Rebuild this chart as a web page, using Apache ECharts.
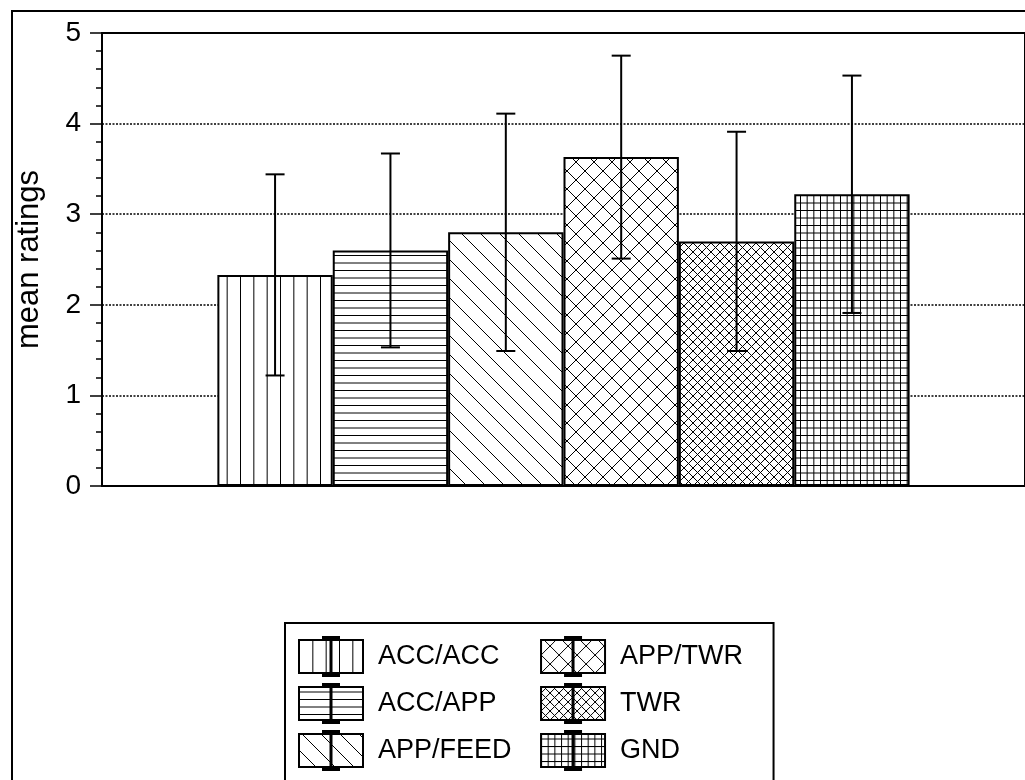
<!DOCTYPE html>
<html>
<head>
<meta charset="utf-8">
<script src="https://cdn.jsdelivr.net/npm/echarts@6/dist/echarts.min.js"></script>
<style>
html,body{margin:0;padding:0;background:#fff;}
#chart{width:1025px;height:780px;}
</style>
</head>
<body>
<div id="chart"></div>
<script>
// ---- data ----
const conditions = ['ACC/ACC', 'ACC/APP', 'APP/FEED', 'APP/TWR', 'TWR', 'GND'];
const meanRatings = [2.33, 2.60, 2.80, 3.63, 2.70, 3.22];
const stdDev = [1.11, 1.07, 1.31, 1.12, 1.21, 1.31];
const yTicks = [0, 1, 2, 3, 4, 5];
const axisCategories = [''].concat(conditions).concat([' ']);

// ---- hatch patterns ----
function makeTile(w, h, draw) {
  const c = document.createElement('canvas');
  c.width = w; c.height = h;
  const ctx = c.getContext('2d');
  ctx.fillStyle = '#fff';
  ctx.fillRect(0, 0, w, h);
  ctx.strokeStyle = '#000';
  ctx.lineWidth = 1;
  ctx.beginPath();
  draw(ctx, w, h);
  ctx.stroke();
  return { image: c, repeat: 'repeat' };
}
function back(ctx, s) { for (let k = -1; k <= 1; k++) { ctx.moveTo(k * s, 0); ctx.lineTo(k * s + s, s); } }
function fwd(ctx, s) { for (let k = -1; k <= 1; k++) { ctx.moveTo(k * s, s); ctx.lineTo(k * s + s, 0); } }
const patterns = [
  makeTile(40, 4, (ctx) => { [0.5, 13.83, 27.17].forEach(x => { ctx.moveTo(x, 0); ctx.lineTo(x, 4); }); }),
  makeTile(4, 15, (ctx) => { [0.5, 8].forEach(y => { ctx.moveTo(0, y); ctx.lineTo(4, y); }); }),
  makeTile(19, 19, (ctx) => back(ctx, 19)),
  makeTile(18, 18, (ctx) => { back(ctx, 18); fwd(ctx, 18); }),
  makeTile(9, 9, (ctx) => { back(ctx, 9); fwd(ctx, 9); }),
  makeTile(20, 15, (ctx) => {
    [0.5, 7.17, 13.83].forEach(x => { ctx.moveTo(x, 0); ctx.lineTo(x, 15); });
    [0.5, 8].forEach(y => { ctx.moveTo(0, y); ctx.lineTo(20, y); });
  })
];

const FONT = '"Liberation Sans", Arial, sans-serif';
// legend icon: hatched box with an error-bar glyph through its middle
const LEGEND_ICON = 'path://M0,3H64V36H0Z M31.5,0H32.5V39H31.5Z M24,0H40V1H24Z M24,38H40V39H24Z';

const barSeries = conditions.map((name, i) => ({
  name: name,
  type: 'bar',
  stack: 'all',
  barCategoryGap: '0%',
  data: [[name, meanRatings[i]]],
  itemStyle: { color: patterns[i], borderColor: '#000', borderWidth: 2 },
  emphasis: { disabled: true },
  z: 2
}));

const errorSeries = {
  type: 'custom',
  name: 'err',
  data: conditions.map((name, i) => [name, meanRatings[i] - stdDev[i], meanRatings[i] + stdDev[i]]),
  renderItem: function (params, api) {
    const lo = api.coord([api.value(0), api.value(1)]);
    const hi = api.coord([api.value(0), api.value(2)]);
    const hw = 9.5;
    const st = { stroke: '#000', lineWidth: 2, fill: 'none' };
    return {
      type: 'group',
      children: [
        { type: 'line', shape: { x1: lo[0], y1: lo[1], x2: hi[0], y2: hi[1] }, style: st },
        { type: 'line', shape: { x1: lo[0] - hw, y1: lo[1], x2: lo[0] + hw, y2: lo[1] }, style: st },
        { type: 'line', shape: { x1: hi[0] - hw, y1: hi[1], x2: hi[0] + hw, y2: hi[1] }, style: st }
      ]
    };
  },
  z: 5,
  silent: true
};

const chart = echarts.init(document.getElementById('chart'), null, { renderer: 'canvas' });
chart.setOption({
  animation: false,
  backgroundColor: '#fff',
  graphic: [{
    type: 'rect',
    shape: { x: 12, y: 11, width: 1100, height: 900 },
    style: { fill: 'none', stroke: '#000', lineWidth: 2 },
    silent: true
  }],
  grid: {
    left: 102, top: 33, right: -12, bottom: 294,
    show: true, borderColor: '#000', borderWidth: 2, backgroundColor: 'transparent'
  },
  legend: {
    orient: 'vertical',
    left: 285, top: 623, height: 180,
    padding: [13, 8, 30, 13],
    borderColor: '#000', borderWidth: 2, borderRadius: 0,
    itemWidth: 64, itemHeight: 39, itemGap: 6,
    icon: LEGEND_ICON,
    selectedMode: false,
    data: conditions,
    formatter: (name) => name + '\u00a0\u00a0\u00a0',
    textStyle: { fontSize: 27, fontFamily: FONT, color: '#000', padding: [0, 0, 0, 10] }
  },
  xAxis: {
    type: 'category',
    data: axisCategories,
    axisLine: { lineStyle: { color: '#000', width: 2 } },
    axisTick: { show: false },
    axisLabel: { show: false },
    splitLine: { show: false }
  },
  yAxis: {
    type: 'value',
    min: yTicks[0], max: yTicks[yTicks.length - 1], interval: 1,
    name: 'mean ratings',
    nameLocation: 'middle',
    nameGap: 57,
    nameTextStyle: { fontSize: 31, fontFamily: FONT, color: '#000' },
    axisLine: { show: true, lineStyle: { color: '#000', width: 2 } },
    axisTick: { show: true, length: 12, lineStyle: { color: '#000', width: 1.5 } },
    minorTick: { show: true, splitNumber: 5, length: 6, lineStyle: { color: '#000', width: 1.5 } },
    axisLabel: { fontSize: 28, fontFamily: FONT, color: '#000', margin: 21 },
    splitLine: { show: true, lineStyle: { color: '#000', width: 1.5, type: [2, 1.5] } }
  },
  series: barSeries.concat([errorSeries])
});
</script>
</body>
</html>
